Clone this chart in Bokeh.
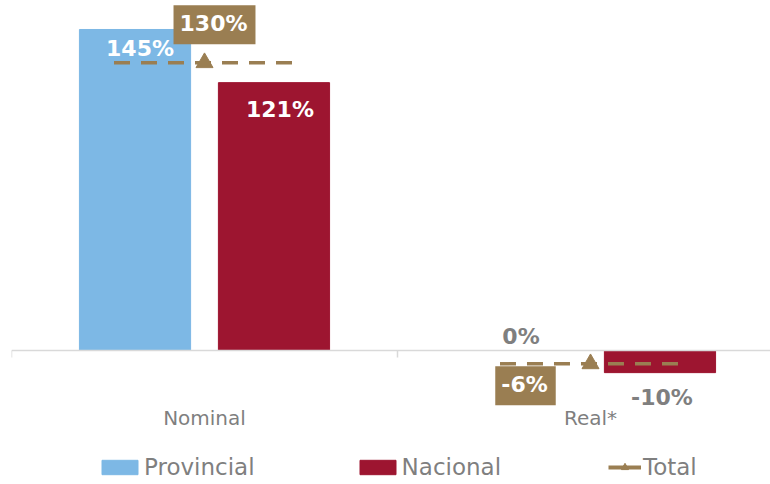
from bokeh.plotting import figure
from bokeh.models import LinearAxis, FixedTicker, Range1d, Legend, LegendItem, ColumnDataSource
from bokeh.core.properties import value
from bokeh.embed import file_html
from bokeh.resources import INLINE

# ---- data ----
categories = ["Nominal", "Real*"]
provincial = [145, 0]
nacional = [121, -10]
total = [130, -6]
series_names = ["Provincial", "Nacional", "Total"]

# ---- style ----
BLUE = "#7DB8E5"
RED = "#9D1530"
TAN = "#9A7E52"
GREY = "#7F7F7F"
AXIS = "#D9D9D9"
FONT = "DejaVu Sans"

PX_PER_CAT = 386.0
PX_PER_UNIT = 2.2138
OFF = 0.18
BW = 0.288
HALF = 0.2345

cat_x = [i + 0.5 for i in range(len(categories))]


def pct(v):
    return f"{v}%"


src = ColumnDataSource(dict(
    x_p=[c - OFF for c in cat_x],
    x_n=[c + OFF for c in cat_x],
    x_c=cat_x,
    x0=[c - HALF for c in cat_x],
    x1=[c + HALF for c in cat_x],
    prov=provincial,
    nac=nacional,
    tot=total,
    prov_lbl=[pct(v) for v in provincial],
    nac_lbl=[pct(v) for v in nacional],
    tot_lbl=[pct(v) for v in total],
    lbl_col=["white", GREY],
    # label pixel offsets (layout only)
    p_dx=[5, 0], p_dy=[19, -14],
    n_dx=[6, 2], n_dy=[27, 25],
    t_dx=[10, -65], t_dy=[-38, 22],
))

p = figure(width=770, height=484,
           x_range=Range1d(0, 759 / PX_PER_CAT),
           y_range=Range1d(-134 / PX_PER_UNIT, 350 / PX_PER_UNIT),
           output_backend="svg", toolbar_location=None,
           x_axis_location=None, y_axis_location=None,
           min_border_left=11, min_border_right=0,
           min_border_top=0, min_border_bottom=0)
p.outline_line_color = None
p.background_fill_color = "white"
p.xgrid.visible = False
p.ygrid.visible = False

# axis with boundary ticks
ax = LinearAxis(fixed_location=0, ticker=FixedTicker(ticks=[0, 1, 2]),
                axis_line_color=AXIS, axis_line_width=1.5,
                major_tick_line_color=AXIS, major_tick_line_width=1.5,
                major_tick_out=7, major_tick_in=0,
                minor_tick_line_color=None, major_label_text_color=None)
p.add_layout(ax, "below")

# category labels
cax = LinearAxis(fixed_location=0, ticker=FixedTicker(ticks=cat_x),
                 major_label_overrides={x: c for x, c in zip(cat_x, categories)},
                 axis_line_color=None, major_tick_line_color=None,
                 minor_tick_line_color=None, major_tick_out=0, major_tick_in=0,
                 major_label_standoff=55,
                 major_label_text_font=FONT, major_label_text_font_size="20px",
                 major_label_text_color=GREY)
p.add_layout(cax, "below")
for g in p.grid:
    g.visible = False

rp = p.vbar(x="x_p", top="prov", bottom=0, width=BW, color=BLUE, source=src)
rn = p.vbar(x="x_n", top="nac", bottom=0, width=BW, color=RED, source=src)

p.segment(x0="x0", y0="tot", x1="x1", y1="tot", source=src,
          line_color=TAN, line_width=3.5, line_dash="16 11")
rt = p.scatter(x="x_c", y="tot", source=src, marker="triangle", size=17,
               fill_color=TAN, line_color=TAN)
# zero-length solid segments: only used for the legend's solid line sample
leg_line = p.segment(x0="x_c", y0="tot", x1="x_c", y1="tot", source=src,
                     line_color=TAN, line_width=4, line_cap="butt")

# data labels
common = dict(text_font=value(FONT), text_font_style="bold", text_font_size="22px",
              text_align="center", text_baseline="middle", source=src)
p.text(x="x_p", y="prov", text="prov_lbl", text_color="lbl_col",
       x_offset="p_dx", y_offset="p_dy", **common)
p.text(x="x_n", y="nac", text="nac_lbl", text_color="lbl_col",
       x_offset="n_dx", y_offset="n_dy", **common)
p.text(x="x_c", y="tot", text="tot_lbl", text_color="white",
       background_fill_color=TAN, padding=(6, 8, 6, 8),
       x_offset="t_dx", y_offset="t_dy", **common)

# legends
leg_common = dict(orientation="horizontal", padding=0, margin=0,
                  border_line_color=None, background_fill_alpha=0,
                  label_text_font=FONT, label_text_font_size="23px",
                  label_text_color=GREY, glyph_height=18, label_standoff=2)
legend1 = Legend(items=[LegendItem(label=series_names[0], renderers=[rp]),
                        LegendItem(label=series_names[1], renderers=[rn])],
                 location=(86, 4), spacing=100, glyph_width=45, **leg_common)
legend2 = Legend(items=[LegendItem(label=series_names[2], renderers=[leg_line, rt])],
                 location=(597, 4), glyph_width=33, **leg_common)
p.add_layout(legend1)
p.add_layout(legend2)

open("out.html", "w").write(file_html(p, INLINE))
